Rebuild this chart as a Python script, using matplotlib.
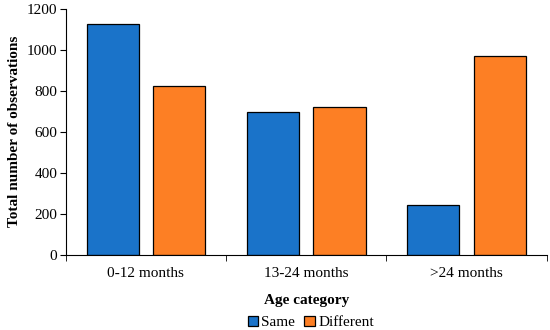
import matplotlib
matplotlib.use("Agg")
import matplotlib.pyplot as plt
import numpy as np

categories = ["0-12 months", "13-24 months", ">24 months"]
same = [1124, 695, 242]
different = [824, 719, 969]
yticks = [0, 200, 400, 600, 800, 1000, 1200]

plt.rcParams['font.family'] = ['Liberation Serif', 'DejaVu Serif']

fig = plt.figure(figsize=(5.5, 3.3), dpi=100)
ax = fig.add_axes([0.1195, 0.228, 0.8745, 0.746])

x = np.arange(len(categories))
w = 0.325
off = w / 2 + 0.045
ax.bar(x - off, same, w, color="#1A73C9", edgecolor="black", linewidth=0.9, label="Same")
ax.bar(x + off, different, w, color="#FD7F24", edgecolor="black", linewidth=0.9, label="Different")

ax.set_xlim(-0.5, len(categories) - 0.5)
ax.set_ylim(0, 1200)
ax.set_yticks(yticks)
ax.set_xticks(x)
ax.set_xticklabels(categories, fontsize=11)
ax.set_xticks(np.arange(len(categories) + 1) - 0.5, minor=True)
ax.tick_params(axis='x', which='major', length=0, pad=9)
ax.tick_params(axis='x', which='minor', length=4, direction='out')
ax.tick_params(axis='y', labelsize=11, length=4, direction='out', pad=2)

for s in ["top", "right"]:
    ax.spines[s].set_visible(False)

ax.set_ylabel("Total number of observations", fontsize=11, fontweight="bold", labelpad=4)
ax.set_xlabel("Age category", fontsize=11, fontweight="bold", labelpad=10)

leg = fig.legend(loc="lower center", bbox_to_anchor=(0.565, -0.04), ncol=2, frameon=False,
                 fontsize=11, handlelength=0.7, handleheight=0.7, handletextpad=0.2,
                 columnspacing=0.6)

fig.savefig("out.png", dpi=100)
